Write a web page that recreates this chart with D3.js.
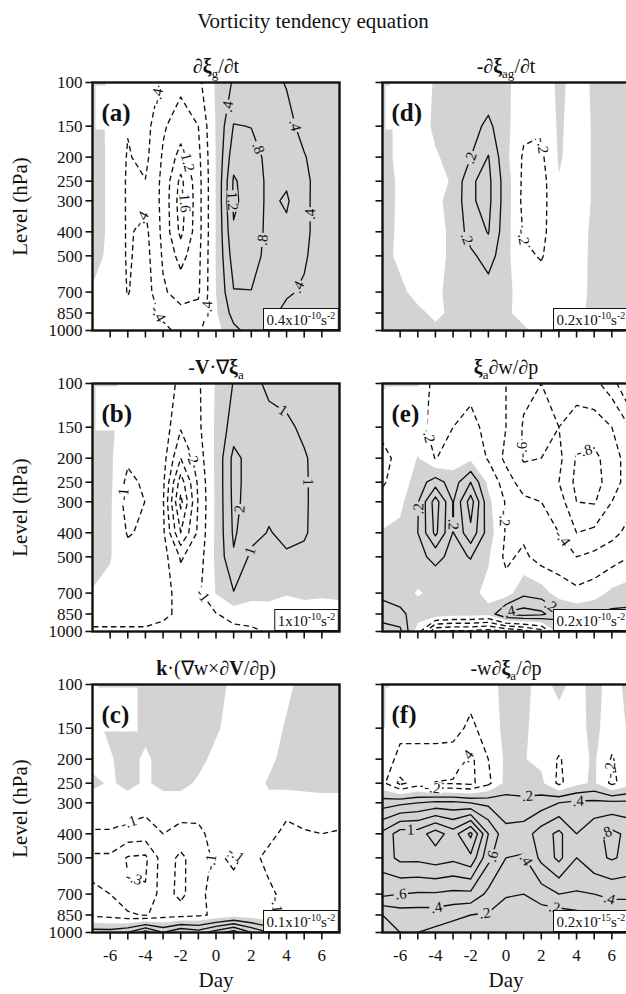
<!DOCTYPE html>
<html>
<head>
<meta charset="utf-8">
<script src="https://cdn.jsdelivr.net/npm/d3@7"></script>
<style>
  html, body { margin: 0; padding: 0; background: #fff; }
  text, tspan { font-family: "Liberation Serif", "Times New Roman", Times, serif; fill: #111; }
</style>
</head>
<body>
<svg id="fig" width="626" height="994" font-family="Liberation Serif, Times New Roman, serif"></svg>
<script>
// Vorticity budget composites: day relative to the event vs. pressure level.
const DAYS = d3.range(-7, 8);                                          // -7 ... 7
const LEVELS = [100, 150, 200, 250, 300, 400, 500, 700, 850, 1000];    // hPa
const DAY_TICK_LABELS = [-6, -4, -2, 0, 2, 4, 6];

// Every term: one vertical profile per day (-7 ... 7), listed from 100 hPa down to 1000 hPa.
// (a) geostrophic vorticity tendency, units 1e-10 s^-2
const geoTendency = [
  [0.15, 0.18, 0.2, 0.2, 0.2, 0.15, 0.08, -0.02, -0.1, -0.15],
  [-0.05, -0.08, -0.08, -0.08, -0.08, -0.06, -0.05, -0.08, -0.1, -0.1],
  [-0.25, -0.38, -0.43, -0.45, -0.45, -0.45, -0.45, -0.42, -0.3, -0.15],
  [-0.2, -0.25, -0.3, -0.41, -0.45, -0.3, -0.25, -0.2, -0.15, -0.1],
  [-0.45, -0.75, -0.85, -0.9, -0.9, -0.9, -0.85, -0.75, -0.5, -0.3],
  [-0.7, -1.0, -1.35, -1.7, -1.8, -1.7, -1.35, -0.95, -0.7, -0.5],
  [-0.5, -0.8, -0.9, -0.95, -0.95, -0.95, -0.9, -0.85, -0.7, -0.45],
  [0.05, 0.03, 0.02, 0.02, 0.02, 0.02, 0.02, 0.0, -0.05, -0.15],
  [0.45, 0.82, 1.05, 1.25, 1.28, 1.15, 1.0, 0.78, 0.55, 0.3],
  [0.55, 0.79, 0.95, 1.0, 1.0, 1.0, 0.95, 0.79, 0.65, 0.55],
  [0.5, 0.65, 0.7, 0.72, 0.72, 0.7, 0.68, 0.6, 0.5, 0.38],
  [0.38, 0.5, 0.6, 0.75, 0.85, 0.72, 0.6, 0.45, 0.3, 0.2],
  [0.25, 0.3, 0.42, 0.48, 0.5, 0.5, 0.45, 0.35, 0.25, 0.15],
  [0.2, 0.2, 0.25, 0.25, 0.2, 0.2, 0.2, 0.2, 0.15, 0.1],
  [0.1, 0.1, 0.05, -0.02, 0.05, 0.1, 0.1, 0.1, 0.1, 0.05]
];
// (b) horizontal advection of absolute vorticity, units 1e-10 s^-2
const horizAdvection = [
  [0.5, 0.5, 0.5, 0.5, 0.5, 0.4, 0.3, -0.05, -0.2, -1.3],
  [0.15, 0.15, 0.15, 0.2, 0.15, 0.1, 0.05, -0.2, -0.2, -1.3],
  [-0.2, -0.4, -0.8, -1.3, -1.5, -1.1, -0.6, -0.3, -0.2, -1.3],
  [-0.2, -0.3, -0.5, -0.8, -0.98, -0.8, -0.5, -0.3, -0.2, -1.3],
  [-0.3, -0.4, -0.6, -0.8, -0.9, -0.8, -0.6, -0.5, -0.8, -1.3],
  [-1.3, -1.9, -3.0, -4.5, -5.3, -4.0, -2.1, -1.5, -1.2, -1.3],
  [-1.15, -1.2, -1.5, -1.8, -1.9, -1.8, -1.5, -1.2, -1.2, -1.3],
  [0.1, 0.15, 0.2, 0.2, 0.2, 0.2, 0.2, 0.05, -1.05, -1.3],
  [1.05, 1.5, 2.3, 2.3, 2.25, 2.15, 1.9, 0.95, -0.6, -1.3],
  [1.3, 1.5, 1.6, 1.6, 1.6, 1.3, 0.8, 0.3, -0.5, -1.2],
  [0.8, 1.3, 1.4, 1.4, 1.2, 0.95, 0.7, 0.2, -0.3, -0.9],
  [0.6, 1.2, 1.3, 1.3, 1.3, 1.2, 0.9, 0.05, -0.4, -0.7],
  [0.5, 0.8, 1.1, 1.12, 1.12, 1.1, 0.8, 0.15, -0.3, -0.5],
  [0.4, 0.5, 0.6, 0.6, 0.6, 0.6, 0.5, 0.1, -0.3, -0.4],
  [0.3, 0.4, 0.4, 0.4, 0.4, 0.4, 0.4, 0.15, -0.3, -0.3]
];
// (c) tilting term, units 1e-10 s^-2
const tilting = [
  [-0.02, -0.03, -0.03, 0.02, -0.04, -0.11, -0.22, -0.19, -0.12, 0.15],
  [0.05, 0.02, -0.01, -0.01, -0.04, -0.11, -0.22, -0.2, -0.14, 0.15],
  [0.05, 0.05, 0.04, 0.02, -0.03, -0.14, -0.31, -0.29, -0.18, 0.2],
  [0.05, 0.03, -0.02, -0.01, -0.06, -0.15, -0.32, -0.29, -0.21, 0.35],
  [0.05, 0.05, 0.04, 0.02, -0.03, -0.1, -0.15, -0.15, -0.15, 0.2],
  [0.05, 0.05, 0.04, 0.02, -0.03, -0.14, -0.22, -0.23, -0.14, 0.3],
  [0.05, 0.04, 0.02, -0.01, -0.04, -0.13, -0.15, -0.12, -0.12, 0.25],
  [0.03, 0.01, -0.02, -0.03, -0.03, -0.05, -0.08, -0.07, -0.08, 0.35],
  [-0.02, -0.03, -0.04, -0.04, -0.03, -0.03, -0.12, -0.06, -0.05, 0.45],
  [-0.05, -0.05, -0.05, -0.04, -0.03, -0.05, -0.07, -0.08, -0.06, 0.3],
  [-0.05, -0.04, -0.02, 0.01, -0.02, -0.07, -0.13, -0.08, -0.09, 0.2],
  [-0.02, 0.01, 0.03, 0.03, -0.06, -0.13, -0.15, -0.13, -0.11, 0.15],
  [0.03, 0.04, 0.04, 0.03, -0.04, -0.11, -0.14, -0.13, -0.11, 0.12],
  [0.05, 0.05, 0.05, 0.03, -0.03, -0.1, -0.13, -0.12, -0.11, 0.1],
  [0.05, 0.05, 0.05, 0.03, -0.03, -0.11, -0.12, -0.12, -0.11, 0.1]
];
// (d) minus ageostrophic vorticity tendency, units 1e-10 s^-2
const ageoTendency = [
  [0.03, 0.04, 0.04, 0.05, 0.05, 0.04, 0.03, 0.02, 0.03, 0.02],
  [-0.04, -0.03, -0.03, -0.02, -0.02, -0.02, -0.02, 0.02, 0.03, 0.02],
  [-0.05, -0.05, -0.06, -0.05, -0.05, -0.05, -0.04, -0.03, 0.02, 0.02],
  [0.01, 0.02, -0.01, -0.03, -0.02, -0.03, -0.03, -0.02, -0.02, 0.02],
  [0.05, 0.08, 0.03, 0.01, 0.03, 0.02, 0.02, 0.03, 0.02, 0.02],
  [0.06, 0.12, 0.2, 0.38, 0.38, 0.3, 0.15, 0.05, 0.03, 0.02],
  [0.05, 0.25, 0.41, 0.45, 0.45, 0.41, 0.3, 0.1, 0.03, 0.02],
  [0.02, 0.05, 0.05, 0.1, 0.1, 0.08, 0.05, 0.03, 0.01, 0.01],
  [-0.05, -0.15, -0.23, -0.25, -0.26, -0.22, -0.15, -0.05, -0.02, 0.01],
  [-0.15, -0.18, -0.24, -0.28, -0.27, -0.26, -0.22, -0.08, -0.03, -0.02],
  [0.05, 0.03, 0.02, -0.01, -0.05, -0.05, -0.05, -0.04, -0.03, -0.02],
  [-0.08, -0.08, -0.08, -0.08, -0.08, -0.06, -0.05, -0.03, -0.02, 0.01],
  [0.03, 0.02, 0.02, 0.02, 0.02, 0.03, 0.03, 0.02, 0.02, 0.02],
  [0.05, 0.05, 0.05, 0.05, 0.04, 0.03, 0.03, 0.03, 0.02, 0.02],
  [0.04, 0.04, 0.04, 0.03, 0.03, 0.03, 0.03, 0.03, 0.02, 0.02]
];
// (e) stretching term, units 1e-10 s^-2
const stretching = [
  [0.02, -0.15, -0.25, -0.22, -0.15, 0.02, 0.1, 0.15, 0.3, 0.5],
  [0.02, -0.1, -0.15, -0.12, -0.05, 0.05, 0.1, 0.1, 0.25, 0.45],
  [0.02, -0.12, 0.01, 0.1, 0.18, 0.2, 0.15, -0.02, 0.1, -0.1],
  [-0.3, -0.28, -0.21, 0.3, 0.7, 0.65, 0.25, 0.05, 0.15, -0.8],
  [-0.35, -0.2, -0.1, 0.1, 0.19, 0.19, 0.15, 0.02, 0.1, -0.85],
  [-0.25, -0.15, -0.05, 0.4, 0.7, 0.55, 0.21, 0.05, 0.1, -0.85],
  [-0.3, -0.25, -0.22, -0.05, 0.05, 0.1, 0.02, -0.05, 0.05, -0.9],
  [-0.4, -0.4, -0.45, -0.3, -0.22, -0.22, -0.25, -0.1, 0.45, -0.8],
  [-0.55, -0.62, -0.62, -0.5, -0.35, -0.25, -0.15, 0.15, 0.5, -0.7],
  [-0.6, -0.65, -0.6, -0.5, -0.4, -0.35, -0.3, 0.1, 0.45, -0.5],
  [-0.55, -0.6, -0.55, -0.6, -0.5, -0.4, -0.3, -0.1, 0.25, 0.1],
  [-0.5, -0.7, -0.82, -0.85, -0.8, -0.6, -0.4, -0.15, 0.15, 0.15],
  [-0.45, -0.7, -0.85, -0.88, -0.82, -0.55, -0.35, -0.1, 0.2, 0.2],
  [-0.3, -0.6, -0.7, -0.7, -0.6, -0.45, -0.3, 0.05, 0.25, 0.2],
  [0.05, -0.4, -0.5, -0.5, -0.45, -0.35, -0.2, 0.1, 0.25, 0.2]
];
// (f) vertical advection of absolute vorticity, units 1e-15 s^-2
const vertAdvection = [
  [0.05, 0.02, -0.1, -0.15, 0.3, 0.85, 0.9, 0.65, 0.2, 0.15],
  [-0.08, -0.15, -0.25, -0.45, 0.35, 1.1, 1.05, 0.6, 0.3, 0.2],
  [-0.1, -0.15, -0.25, -0.3, 0.4, 1.1, 1.05, 0.58, 0.3, 0.2],
  [-0.1, -0.15, -0.25, -0.41, 0.45, 1.3, 1.1, 0.58, 0.3, 0.15],
  [-0.08, -0.12, -0.3, -0.42, 0.45, 1.1, 1.05, 0.55, 0.25, 0.1],
  [-0.1, -0.25, -0.45, -0.45, 0.4, 1.45, 1.15, 0.55, 0.2, 0.1],
  [-0.06, -0.1, -0.2, -0.25, 0.35, 0.8, 0.65, 0.35, 0.18, 0.1],
  [0.05, 0.05, 0.04, 0.06, 0.3, 0.45, 0.4, 0.22, 0.1, 0.05],
  [0.03, 0.02, 0.01, 0.1, 0.25, 0.5, 0.38, 0.2, 0.1, 0.05],
  [-0.04, -0.05, -0.05, 0.05, 0.3, 0.7, 0.65, 0.3, 0.1, 0.05],
  [0.03, -0.05, -0.22, -0.25, 0.4, 0.85, 0.85, 0.4, 0.1, 0.05],
  [-0.04, -0.05, -0.08, -0.05, 0.45, 0.6, 0.6, 0.38, 0.15, 0.1],
  [0.04, 0.04, 0.03, 0.03, 0.45, 0.75, 0.75, 0.4, 0.2, 0.15],
  [-0.05, -0.08, -0.22, -0.25, 0.45, 0.85, 0.82, 0.45, 0.25, 0.15],
  [0.04, 0.02, -0.05, -0.08, 0.45, 0.75, 0.75, 0.45, 0.25, 0.25]
];

// Contour-label anchors: [contour value, day, level hPa]; each label snaps onto its contour.
const labelsA = [[-0.4,-3.0,115],[-0.4,-4.3,355],[-1.2,-1.6,205],[-1.6,-1.9,300],[-0.4,-3.1,840],[-0.4,-0.6,820],
                 [0.4,0.6,125],[0.8,2.3,185],[1.2,1.1,300],[0.8,2.4,430],[0.4,4.3,150],[0.4,5.3,340],[0.4,4.3,650]];
const labelsB = [[-1,-5.2,280],[-2,-1.4,200],[-1,-0.8,720],[1,3.9,125],[1,5.2,250],[1,1.8,470],[2,1.2,320]];
const labelsC = [[-0.1,-4.9,370],[-0.3,-4.7,620],[-0.1,-0.4,520],[-0.1,1.0,500],[-0.1,3.6,770]];
const labelsD = [[0.2,-2.1,200],[0.2,-2.0,420],[-0.2,1.9,180],[-0.2,0.9,420]];
const labelsE = [[-0.2,-4.3,160],[-0.6,0.7,185],[-0.8,4.4,185],[0.2,-5.2,320],[0.2,-2.8,370],[-0.2,0.2,350],
                 [-0.4,3.2,420],[0.4,0,720],[0.2,2.9,720]];
const labelsF = [[-0.4,-2.6,190],[-0.2,-4.2,270],[0.2,1.2,270],[0.4,4.1,300],[1,-5.4,380],[0.6,-0.9,490],
                 [0.6,-6.0,650],[0.4,-3.9,820],[0.2,-1.2,830],[0.4,1.3,500],[0.2,2.9,700],[0.4,6.1,640],
                 [0.8,5.7,400],[-0.2,5.3,220]];

const panels = [
  { id: "a", col: 0, row: 0, data: geoTendency,    step: 0.4, coef: "0.4", exp: "-10", labels: labelsA,
    title: [["∂",""],["ξ","b"],["g","sub"],["/∂t",""]] },
  { id: "b", col: 0, row: 1, data: horizAdvection, step: 1,   coef: "1",   exp: "-10", labels: labelsB,
    title: [["-",""],["V","b"],["·∇",""],["ξ","b"],["a","sub"]] },
  { id: "c", col: 0, row: 2, data: tilting,        step: 0.1, coef: "0.1", exp: "-10", labels: labelsC,
    title: [["k","b"],["·(∇w×∂",""],["V","b"],["/∂p)",""]] },
  { id: "d", col: 1, row: 0, data: ageoTendency,   step: 0.2, coef: "0.2", exp: "-10", labels: labelsD,
    title: [["-∂",""],["ξ","b"],["ag","sub"],["/∂t",""]] },
  { id: "e", col: 1, row: 1, data: stretching,     step: 0.2, coef: "0.2", exp: "-10", labels: labelsE,
    title: [["ξ","b"],["a","sub"],["∂w/∂p",""]] },
  { id: "f", col: 1, row: 2, data: vertAdvection,  step: 0.2, coef: "0.2", exp: "-15", labels: labelsF,
    title: [["-w∂",""],["ξ","b"],["a","sub"],["/∂p",""]] }
];

// ---- layout ----
const COL_X = [92.5, 382.5];
const ROW_Y = [82.5, 383.5, 684.5];
const W = 247, H = 248;
const GRAY = "#d2d3d2";
const INK = "#111";
const SERIF = "'Liberation Serif', 'Times New Roman', Times, serif";

const svg = d3.select("#fig");
const defs = svg.append("defs");
const txt = (sel) => sel.append("text").style("font-family", SERIF);

txt(svg).attr("x", 313).attr("y", 28).attr("text-anchor", "middle")
  .style("font-size", "21px").text("Vorticity tendency equation");

function fmtLabel(v) {
  const a = Math.abs(v);
  let s = a < 1 ? a.toFixed(1).replace(/^0/, "") : (Number.isInteger(a) ? String(a) : a.toFixed(1));
  return (v < 0 ? "-" : "") + s;
}

function paddedGrid(profiles) {
  const nc = profiles.length, nr = profiles[0].length;
  const nx = nc + 2, ny = nr + 2;
  const v = new Array(nx * ny);
  for (let r = 0; r < ny; r++) for (let c = 0; c < nx; c++) {
    const cc = Math.min(Math.max(c - 1, 0), nc - 1);
    const rr = Math.min(Math.max(r - 1, 0), nr - 1);
    v[r * nx + c] = profiles[cc][rr];
  }
  return { v, nx, ny };
}

function nearestOnRings(rings, px, py, box) {
  let best = null;
  rings.forEach(ring => {
    for (let i = 0; i < ring.length - 1; i++) {
      const [ax, ay] = ring[i], [bx, by] = ring[i + 1];
      const dx = bx - ax, dy = by - ay, L2 = dx * dx + dy * dy;
      if (L2 < 1e-9) continue;
      let t = ((px - ax) * dx + (py - ay) * dy) / L2;
      t = Math.max(0, Math.min(1, t));
      const qx = ax + t * dx, qy = ay + t * dy;
      if (qx < box.x0 + 8 || qx > box.x1 - 8 || qy < box.y0 + 6 || qy > box.y1 - 6) continue;
      const d = Math.hypot(px - qx, py - qy);
      if (!best || d < best.d) best = { x: qx, y: qy, d, ang: Math.atan2(dy, dx) * 180 / Math.PI };
    }
  });
  return best;
}

panels.forEach(p => {
  const x0 = COL_X[p.col], y0 = ROW_Y[p.row];
  const xs = d3.scaleLinear().domain([-7, 7]).range([x0, x0 + W]);
  const ys = d3.scaleLog().domain([100, 1000]).range([y0, y0 + H]);
  const box = { x0, x1: x0 + W, y0, y1: y0 + H };

  const grid = paddedGrid(p.data);
  const gen = d3.contours().size([grid.nx, grid.ny]).smooth(true);
  const toXY = ([gx, gy]) => {
    const col = gx - 1.5, row = gy - 1.5;
    let i = Math.max(0, Math.min(LEVELS.length - 2, Math.floor(row)));
    const f = row - i;
    const ya = ys(LEVELS[i]), yb = ys(LEVELS[i + 1]);
    return [xs(DAYS[0] + col), ya + (yb - ya) * f];
  };
  const ringsFor = t => gen.contour(grid.v, t).coordinates.flat().map(r => r.map(toXY));
  const ringPath = rings => rings.map(r => "M" + r.map(q => q[0].toFixed(2) + "," + q[1].toFixed(2)).join("L") + "Z").join("");

  const clipId = "clip-" + p.id;
  defs.append("clipPath").attr("id", clipId).append("rect")
    .attr("x", x0).attr("y", y0).attr("width", W).attr("height", H);
  const plot = svg.append("g").attr("clip-path", `url(#${clipId})`);

  // positive values shaded
  plot.append("path").attr("d", ringPath(ringsFor(0))).attr("fill", GRAY).attr("fill-rule", "evenodd");

  // contour lines: solid positive, dashed negative
  const flat = p.data.flat();
  const kLo = Math.floor(d3.min(flat) / p.step), kHi = Math.ceil(d3.max(flat) / p.step);
  const thresholds = d3.range(kLo, kHi + 1).filter(k => k !== 0).map(k => +(k * p.step).toFixed(3));
  const ringsByT = new Map();
  thresholds.forEach(t => {
    const rings = ringsFor(t);
    ringsByT.set(t, rings);
    plot.append("path").attr("d", ringPath(rings))
      .attr("fill", "none").attr("stroke", INK).attr("stroke-width", 1.35)
      .attr("stroke-linejoin", "round")
      .attr("stroke-dasharray", t < 0 ? "5.5,3.5" : null);
  });

  // contour labels
  p.labels.forEach(([v, day, lev]) => {
    const key = +v.toFixed(3);
    const rings = ringsByT.get(key);
    if (!rings) return;
    const hit = nearestOnRings(rings, xs(day), ys(lev), box);
    if (!hit || hit.d > 28) return;
    let ang = hit.ang;
    if (ang > 90) ang -= 180;
    if (ang < -90) ang += 180;
    const lg = plot.append("g").attr("transform", `translate(${hit.x},${hit.y}) rotate(${ang})`);
    const bg = lg.append("rect").attr("fill", v > 0 ? GRAY : "#fff");
    const tx = txt(lg).attr("text-anchor", "middle").attr("dy", "0.33em")
      .style("font-size", "15px").text(fmtLabel(v));
    const len = tx.node().getComputedTextLength();
    bg.attr("x", -len / 2 - 1.5).attr("y", -5.5).attr("width", len + 3).attr("height", 11);
  });

  // frame
  svg.append("rect").attr("x", x0).attr("y", y0).attr("width", W).attr("height", H)
    .attr("fill", "none").attr("stroke", INK).attr("stroke-width", 2.4);

  // panel letter
  svg.append("rect").attr("x", x0 + 3).attr("y", y0 + 3).attr("width", 42).attr("height", 44).attr("fill", "#fff");
  txt(svg).attr("x", x0 + 9).attr("y", y0 + 38).style("font-size", "25px").style("font-weight", "bold")
    .text(`(${p.id})`);

  // scale box
  const sg = svg.append("g");
  const st = txt(sg).attr("y", y0 + H - 5.5).style("font-size", "15px");
  st.append("tspan").text(p.coef + "x10");
  st.append("tspan").attr("dy", -6).style("font-size", "10px").text(p.exp);
  st.append("tspan").attr("dy", 6).text("s");
  st.append("tspan").attr("dy", -6).style("font-size", "10px").text("-2");
  const sw = st.node().getComputedTextLength();
  const bx = x0 + W - 1.2 - sw - 6;
  st.attr("x", bx + 3);
  sg.insert("rect", "text").attr("x", bx).attr("y", y0 + H - 22).attr("width", sw + 6).attr("height", 21)
    .attr("fill", "#fff").attr("stroke", INK).attr("stroke-width", 1);

  // panel title
  const tt = txt(svg).attr("x", x0 + W / 2).attr("y", y0 - 10).attr("text-anchor", "middle")
    .style("font-size", "20px");
  let shifted = 0;
  p.title.forEach(([s, kind]) => {
    const ts = tt.append("tspan").text(s);
    if (kind === "sub") {
      ts.attr("dy", 5 - shifted).style("font-size", "13px");
      shifted = 5;
    } else {
      if (shifted) ts.attr("dy", -shifted);
      shifted = 0;
      if (kind === "b") ts.style("font-weight", "bold");
    }
  });

  // y axis ticks (all panels), labels on left column
  const yAx = svg.append("g");
  LEVELS.forEach(lev => {
    yAx.append("line").attr("x1", x0 - 7).attr("x2", x0).attr("y1", ys(lev)).attr("y2", ys(lev))
      .attr("stroke", INK).attr("stroke-width", 1.6);
    if (p.col === 0) {
      txt(yAx).attr("x", x0 - 10).attr("y", ys(lev)).attr("dy", "0.35em")
        .attr("text-anchor", "end").style("font-size", "17px").text(String(lev));
    }
  });
  if (p.col === 0) {
    txt(svg).attr("transform", `translate(27,${y0 + H / 2}) rotate(-90)`)
      .attr("text-anchor", "middle").style("font-size", "21px").text("Level (hPa)");
  }

  // x axis ticks (all panels), labels on bottom row
  DAYS.filter(d => d > -7 && d < 7).forEach(d => {
    svg.append("line").attr("x1", xs(d)).attr("x2", xs(d)).attr("y1", y0 + H).attr("y2", y0 + H + 7)
      .attr("stroke", INK).attr("stroke-width", 1.6);
  });
  if (p.row === 2) {
    DAY_TICK_LABELS.forEach(d => {
      txt(svg).attr("x", xs(d)).attr("y", y0 + H + 28).attr("text-anchor", "middle")
        .style("font-size", "17px").text(String(d));
    });
    txt(svg).attr("x", x0 + W / 2).attr("y", y0 + H + 54).attr("text-anchor", "middle")
      .style("font-size", "21px").text("Day");
  }
});
</script>
</body>
</html>
